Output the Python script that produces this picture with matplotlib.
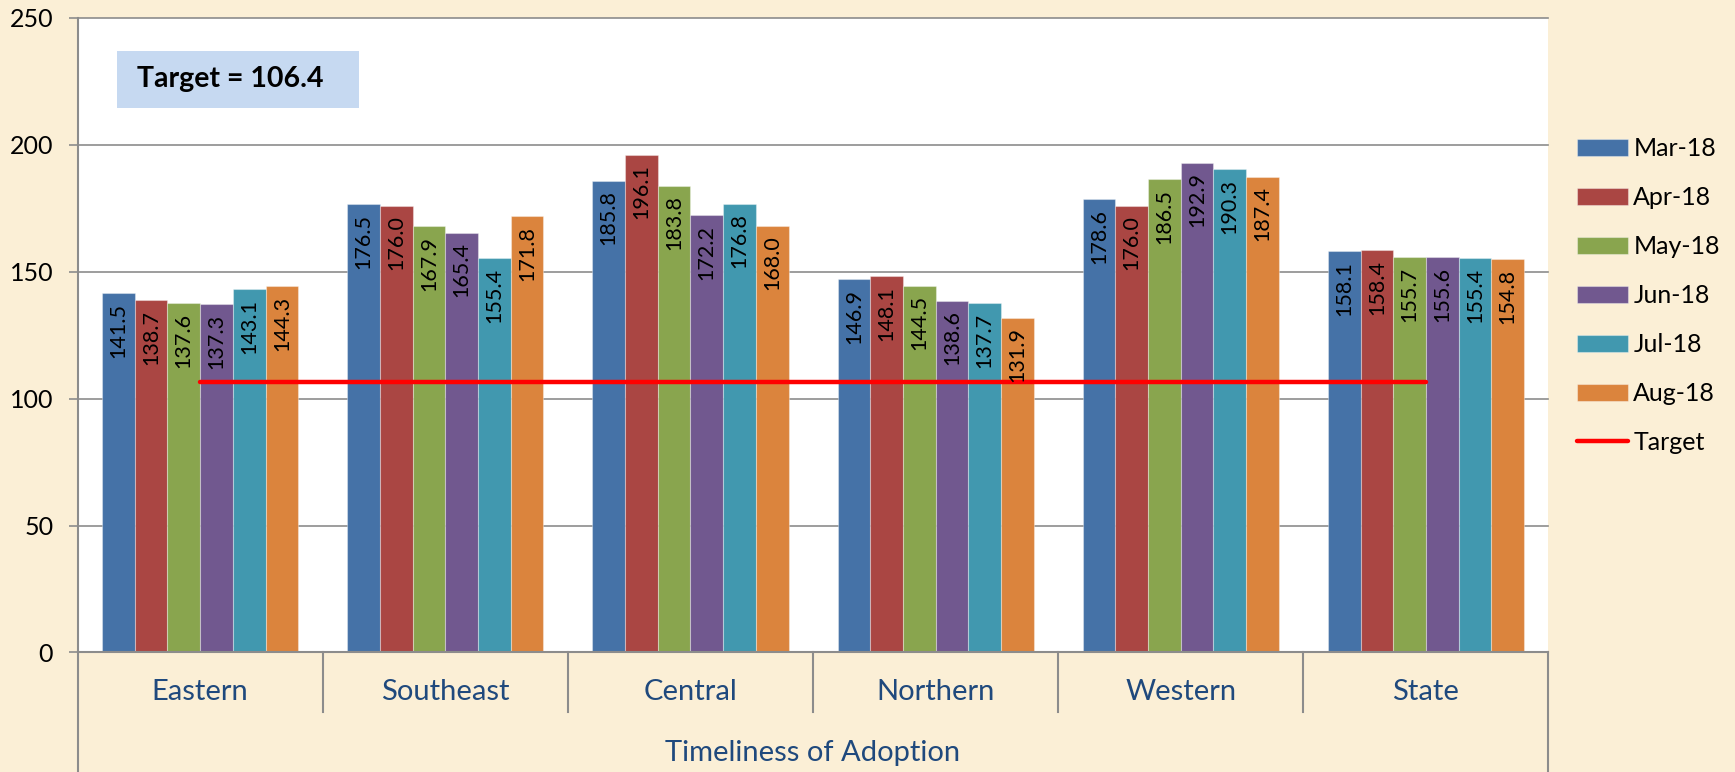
import numpy as np
import matplotlib
matplotlib.use("Agg")
import matplotlib.pyplot as plt
import matplotlib.transforms as mtransforms
from matplotlib.patches import Rectangle

plt.rcParams['font.family'] = ['Lato', 'DejaVu Sans']

regions = ['Eastern', 'Southeast', 'Central', 'Northern', 'Western', 'State']
months = ['Mar-18', 'Apr-18', 'May-18', 'Jun-18', 'Jul-18', 'Aug-18']

mar18 = [141.5, 176.5, 185.8, 146.9, 178.6, 158.1]
apr18 = [138.7, 176.0, 196.1, 148.1, 176.0, 158.4]
may18 = [137.6, 167.9, 183.8, 144.5, 186.5, 155.7]
jun18 = [137.3, 165.4, 172.2, 138.6, 192.9, 155.6]
jul18 = [143.1, 155.4, 176.8, 137.7, 190.3, 155.4]
aug18 = [144.3, 171.8, 168.0, 131.9, 187.4, 154.8]
series = [mar18, apr18, may18, jun18, jul18, aug18]

target = 106.4
yticks = [0, 50, 100, 150, 200, 250]

colors = ['#4572A7', '#AA4643', '#89A54E', '#71588F', '#4198AF', '#DB843D']
bg = '#FBEFD6'
grid_col = '#8C8C8C'
cat_col = '#1F497D'

fig = plt.figure(figsize=(17.35, 7.72), dpi=100, facecolor=bg)
ax = fig.add_axes([0.0447, 0.1548, 0.8478, 0.8223])
ax.set_facecolor('white')

x = np.arange(len(regions))
w = 0.8 / len(series)
for i, (vals, lab, c) in enumerate(zip(series, months, colors)):
    xs = x + (i - 2.5) * w
    ax.bar(xs, vals, width=w, color=c, label=lab, zorder=2,
           edgecolor=(1, 1, 1, 0.35), linewidth=0.8)
    for xx, v in zip(xs, vals):
        ax.annotate(f'{v:.1f}', (xx, v), xytext=(0, -7), textcoords='offset points',
                    rotation=90, ha='center', va='top', fontsize=15.5, color='black', zorder=4)

ax.plot([x[0], x[-1]], [target, target], color='#FF0000', lw=3.2, zorder=3,
        solid_capstyle='round', label='Target')

ax.set_xlim(-0.5, len(regions) - 0.5)
ax.set_ylim(0, 250)
ax.set_yticks(yticks)
ax.tick_params(axis='y', labelsize=18, length=6.5, width=1.2, color=grid_col, pad=11)
ax.set_xticks([])
ax.grid(axis='y', color=grid_col, lw=1.2, zorder=1)
for g in ax.get_ygridlines():
    g.set_clip_on(False)

for s in ['top', 'right']:
    ax.spines[s].set_visible(False)
for s in ['left', 'bottom']:
    ax.spines[s].set_color(grid_col)
    ax.spines[s].set_linewidth(1.5)

# multi-level category axis below the plot
trans = mtransforms.blended_transform_factory(ax.transData, ax.transAxes)
for b in np.arange(0.5, len(regions) - 0.5, 1.0):
    ax.plot([b, b], [0, -0.094], color=grid_col, lw=1.5, transform=trans, clip_on=False)
for b in [-0.5, len(regions) - 0.5]:
    ax.plot([b, b], [0, -0.2], color=grid_col, lw=1.5, transform=trans, clip_on=False)
for xx, name in zip(x, regions):
    ax.text(xx, -0.063, name, transform=trans, ha='center', va='center',
            fontsize=21, color=cat_col)
ax.text(0.5, -0.159, 'Timeliness of Adoption', transform=ax.transAxes,
        ha='center', va='center', fontsize=21, color=cat_col)

# target box
ax.add_patch(Rectangle((0.0269, 0.8578), 0.1645, 0.0898, transform=ax.transAxes,
                       facecolor='#C6D9F1', edgecolor='none', zorder=5))
ax.text(0.0404, 0.9027, 'Target = 106.4', transform=ax.transAxes, ha='left',
        va='center', fontsize=20.5, fontweight='bold', zorder=6)

handles, labels = ax.get_legend_handles_labels()
order = [1, 2, 3, 4, 5, 6, 0]
ax.legend([handles[k] for k in order], [labels[k] for k in order],
          loc='upper left', bbox_to_anchor=(1577 / 1735, 1 - 137 / 772),
          bbox_transform=fig.transFigure, frameon=False, fontsize=18,
          handlelength=2.05, handletextpad=0.2, labelspacing=1.04, borderpad=0,
          borderaxespad=0)

fig.savefig('out.png', dpi=100, facecolor=bg)
